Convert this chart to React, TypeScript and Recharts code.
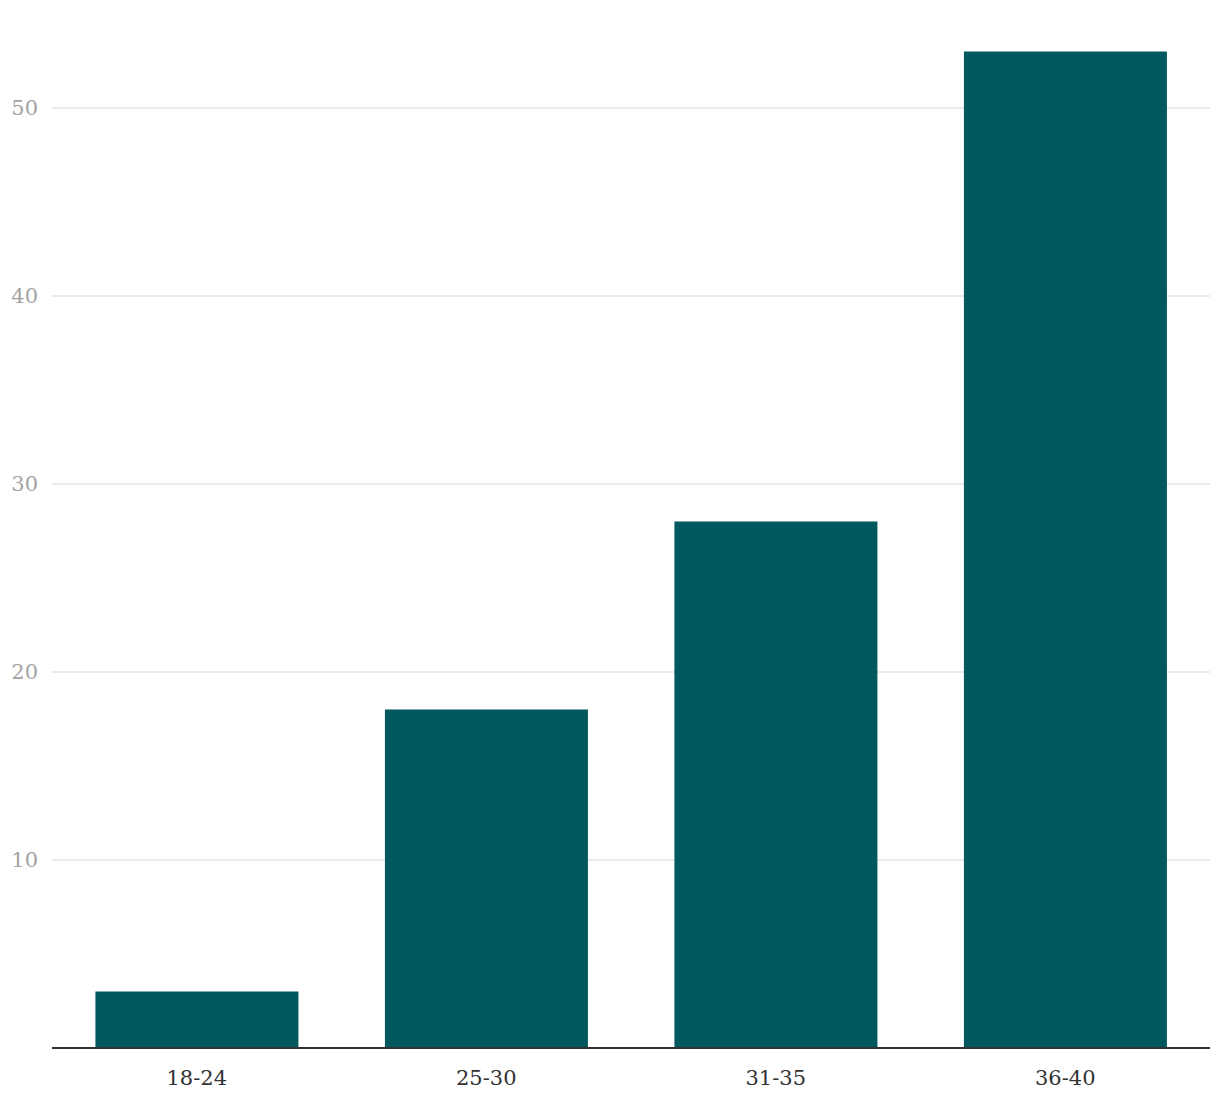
import React from 'react';
import { BarChart, Bar, XAxis, YAxis, CartesianGrid } from 'recharts';

const ageGroups = ['18-24', '25-30', '31-35', '36-40'];
const counts = [3, 18, 28, 53];
const yTicks = [10, 20, 30, 40, 50];

const data = ageGroups.map((name, i) => ({ name, value: counts[i] }));

const FONT = '"DejaVu Serif", serif';

export default function App() {
  return (
    <div style={{ position: 'absolute', left: 0, top: 0, width: 1220, height: 1106, background: '#fff' }}>
      <BarChart
        width={1220}
        height={1106}
        data={data}
        margin={{ top: 14, right: 10, left: 0, bottom: 0 }}
        barCategoryGap="15%"
      >
        <CartesianGrid vertical={false} horizontalValues={yTicks} stroke="#e4e4e4" strokeWidth={1.5} />
        <XAxis
          dataKey="name"
          height={58}
          tickLine={false}
          axisLine={{ stroke: '#333', strokeWidth: 2 }}
          tickMargin={16}
          tick={{ fontSize: 21, fill: '#333', fontFamily: FONT }}
          interval={0}
        />
        <YAxis
          width={52}
          domain={[0, 55]}
          ticks={yTicks}
          axisLine={false}
          tickLine={false}
          tickMargin={8}
          tick={{ fontSize: 21, fill: '#a3a3a3', fontFamily: FONT }}
        />
        <Bar dataKey="value" fill="#02585f" isAnimationActive={false} />
      </BarChart>
    </div>
  );
}
